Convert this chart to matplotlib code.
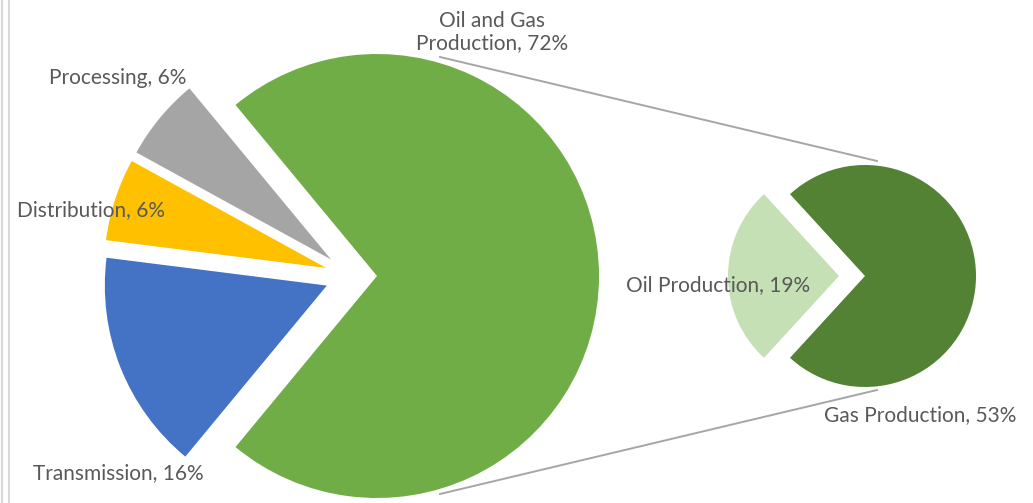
import matplotlib.pyplot as plt
from matplotlib.lines import Line2D

# main pie (share of emissions by segment)
main_labels = ["Oil and Gas\nProduction", "Processing", "Distribution", "Transmission"]
main_values = [72, 6, 6, 16]
main_colors = ["#70ad47", "#a5a5a5", "#ffc000", "#4472c4"]

# breakdown of the oil and gas slice
sub_labels = ["Gas Production", "Oil Production"]
sub_values = [53, 19]
sub_colors = ["#548235", "#c5e0b4"]

W, H = 1033, 503
TXT = "#595959"

plt.rcParams['font.family'] = ['Lato', 'DejaVu Sans']

fig = plt.figure(figsize=(W / 100, H / 100), dpi=100)
ax = fig.add_axes([0, 0, 1, 1])


def Y(y):
    # image rows -> data y
    return H - y


# big pie, green slice centered on 0 deg (explode is in data units here)
r1 = 222
start1 = -360 * main_values[0] / sum(main_values) / 2
ax.pie(main_values, colors=main_colors, startangle=start1, counterclock=True,
       center=(351, Y(276)), radius=r1, explode=[26, 26, 26, 26],
       wedgeprops=dict(linewidth=0), frame=True)

# small pie
r2 = 111
start2 = -360 * sub_values[0] / sum(sub_values) / 2
ax.pie(sub_values, colors=sub_colors, startangle=start2, counterclock=True,
       center=(853, Y(276)), radius=r2, explode=[12, 14],
       wedgeprops=dict(linewidth=0), frame=True)

# connector lines
ax.plot([440, 877], [Y(57), Y(161)], color="#a6a6a6", lw=1.4, zorder=0)
ax.plot([440, 877], [Y(494), Y(390)], color="#a6a6a6", lw=1.4, zorder=0)

# labels
main_pos = [(492, 32), (118, 78), (91, 210), (118, 473)]
for lab, v, (x, y) in zip(main_labels, main_values, main_pos):
    ax.text(x, Y(y), f"{lab}, {v}%", ha="center", va="center",
            fontsize=15, color=TXT, linespacing=1.15)

sub_pos = [(920, 415), (718, 285)]
for lab, v, (x, y) in zip(sub_labels, sub_values, sub_pos):
    ax.text(x, Y(y), f"{lab}, {v}%", ha="center", va="center",
            fontsize=15, color=TXT)

ax.set_xlim(0, W)
ax.set_ylim(0, H)
ax.set_aspect("auto")
ax.axis("off")

# sheet border on the left
fig.add_artist(Line2D([1.5 / W, 1.5 / W], [0, 1], color="#d9d9d9", lw=1.5))
fig.add_artist(Line2D([8.5 / W, 8.5 / W], [0, 1], color="#d9d9d9", lw=1.5))

fig.savefig("out.png", dpi=100)
